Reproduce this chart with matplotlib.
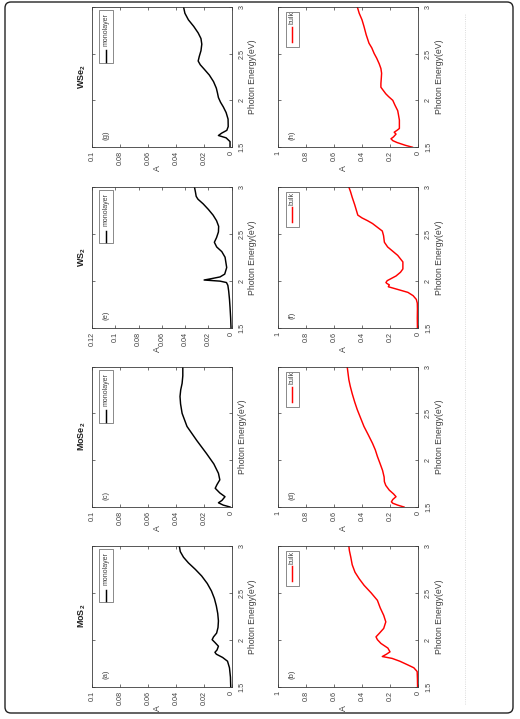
"""
Absorbance A vs photon energy for monolayer and bulk MoS2, MoSe2, WS2, WSe2.
The page is drawn turned a quarter turn (energy runs upward, A runs leftward),
as in the reference scan.
"""
import matplotlib
matplotlib.use("Agg")
import matplotlib.pyplot as plt
from matplotlib.patches import FancyBboxPatch, Rectangle
from matplotlib.lines import Line2D

plt.rcParams["font.family"] = ["Liberation Sans", "DejaVu Sans"]
plt.rcParams["mathtext.fontset"] = "custom"
plt.rcParams["mathtext.rm"] = "Liberation Sans"
plt.rcParams["mathtext.bf"] = "Liberation Sans:bold"

MATERIALS = ["MoS$_\\mathbf{2}$", "MoSe$_\\mathbf{2}$", "WS$_\\mathbf{2}$", "WSe$_\\mathbf{2}$"]
TAGS_MONO = ["(a)", "(c)", "(e)", "(g)"]
TAGS_BULK = ["(b)", "(d)", "(f)", "(h)"]
E_TICKS = [1.5, 2.0, 2.5, 3.0]
E_TICK_LABELS = ["1.5", "2", "2.5", "3"]

# monolayer absorbance
mos2_mono_e = [1.50, 1.60, 1.70, 1.77, 1.81, 1.845, 1.865, 1.89, 1.93, 1.97, 2.00, 2.03,
               2.07, 2.13, 2.20, 2.28, 2.36, 2.44, 2.52, 2.60, 2.68, 2.75, 2.82, 2.88,
               2.94, 3.00]
mos2_mono_a = [0.0007, 0.0009, 0.0016, 0.0030, 0.0065, 0.0110, 0.0120, 0.0105, 0.0095,
               0.0120, 0.0140, 0.0130, 0.0108, 0.0098, 0.0095, 0.0100, 0.0110, 0.0124,
               0.0145, 0.0175, 0.0215, 0.0260, 0.0310, 0.0345, 0.0368, 0.0375]

mose2_mono_e = [1.50, 1.52, 1.545, 1.57, 1.61, 1.65, 1.70, 1.74, 1.79, 1.86, 1.96, 2.07,
                2.21, 2.36, 2.50, 2.60, 2.68, 2.75, 2.82, 2.90, 3.00]
mose2_mono_a = [0.0012, 0.006, 0.0095, 0.007, 0.0048, 0.0085, 0.0118, 0.0105, 0.0085,
                0.0095, 0.0128, 0.0180, 0.0250, 0.0320, 0.0355, 0.0366, 0.0370, 0.0365,
                0.0355, 0.0350, 0.0350]

ws2_mono_e = [1.50, 1.60, 1.71, 1.80, 1.89, 1.95, 1.98, 1.995, 2.007, 2.02, 2.04, 2.07,
              2.14, 2.25, 2.31, 2.36, 2.41, 2.46, 2.52, 2.58, 2.64, 2.70, 2.76, 2.82,
              2.87, 2.90, 2.95, 3.00]
ws2_mono_a = [0.0006, 0.0009, 0.0014, 0.0019, 0.0026, 0.0033, 0.0045, 0.010, 0.0237,
              0.018, 0.010, 0.006, 0.0043, 0.0057, 0.0085, 0.0129, 0.0149, 0.0130,
              0.0114, 0.0112, 0.0130, 0.0160, 0.0200, 0.0245, 0.0290, 0.0305, 0.0312,
              0.0320]

wse2_mono_e = [1.50, 1.56, 1.60, 1.625, 1.65, 1.68, 1.72, 1.80, 1.87, 1.93, 1.98, 2.03,
               2.08, 2.13, 2.20, 2.27, 2.33, 2.38, 2.42, 2.47, 2.53, 2.60, 2.66, 2.72,
               2.79, 2.86, 2.93, 3.00]
wse2_mono_a = [0.0012, 0.0012, 0.004, 0.0095, 0.0072, 0.0035, 0.0025, 0.0026, 0.0040,
               0.0060, 0.0080, 0.0095, 0.0102, 0.0110, 0.0130, 0.0160, 0.0195, 0.0225,
               0.0240, 0.0232, 0.0220, 0.0214, 0.0220, 0.0240, 0.0272, 0.0310, 0.0335,
               0.0345]

# bulk absorbance
mos2_bulk_e = [1.50, 1.58, 1.66, 1.70, 1.73, 1.77, 1.80, 1.82, 1.845, 1.87, 1.91, 1.96,
               2.00, 2.03, 2.07, 2.12, 2.19, 2.26, 2.34, 2.42, 2.50, 2.58, 2.65, 2.72,
               2.80, 2.88, 2.95, 3.00]
mos2_bulk_a = [0.003, 0.004, 0.006, 0.03, 0.072, 0.13, 0.185, 0.255, 0.225, 0.20, 0.215,
               0.265, 0.29, 0.30, 0.275, 0.245, 0.23, 0.245, 0.27, 0.29, 0.335, 0.385,
               0.42, 0.45, 0.47, 0.48, 0.49, 0.494]

mose2_bulk_e = [1.50, 1.52, 1.54, 1.555, 1.58, 1.61, 1.64, 1.68, 1.73, 1.77, 1.82, 1.89,
                1.96, 2.04, 2.11, 2.18, 2.27, 2.36, 2.45, 2.54, 2.62, 2.71, 2.79, 2.86,
                2.93, 3.00]
mose2_bulk_a = [0.10, 0.145, 0.18, 0.19, 0.18, 0.157, 0.175, 0.205, 0.23, 0.24, 0.242,
                0.253, 0.27, 0.29, 0.305, 0.325, 0.355, 0.386, 0.41, 0.434, 0.452, 0.47,
                0.484, 0.494, 0.50, 0.506]

ws2_bulk_e = [1.50, 1.60, 1.70, 1.76, 1.80, 1.84, 1.875, 1.90, 1.935, 1.955, 1.97, 1.98,
              2.00, 2.05, 2.09, 2.125, 2.20, 2.27, 2.32, 2.36, 2.41, 2.48, 2.53, 2.57,
              2.61, 2.64, 2.67, 2.70, 2.75, 2.81, 2.89, 2.95, 3.00]
ws2_bulk_a = [0.004, 0.005, 0.004, 0.005, 0.012, 0.035, 0.072, 0.13, 0.212, 0.205, 0.222,
              0.229, 0.22, 0.157, 0.125, 0.108, 0.108, 0.145, 0.185, 0.217, 0.24, 0.246,
              0.255, 0.29, 0.325, 0.36, 0.40, 0.43, 0.44, 0.452, 0.47, 0.482, 0.494]

wse2_bulk_e = [1.50, 1.52, 1.55, 1.57, 1.59, 1.61, 1.64, 1.66, 1.68, 1.70, 1.75, 1.79,
               1.85, 1.89, 1.95, 2.00, 2.04, 2.07, 2.11, 2.14, 2.18, 2.24, 2.29, 2.34,
               2.39, 2.45, 2.50, 2.56, 2.61, 2.70, 2.79, 2.86, 2.93, 3.00]
wse2_bulk_a = [0.04, 0.09, 0.15, 0.18, 0.193, 0.175, 0.157, 0.17, 0.15, 0.133, 0.133,
               0.133, 0.14, 0.145, 0.165, 0.18, 0.21, 0.23, 0.25, 0.265, 0.265, 0.262,
               0.26, 0.265, 0.277, 0.295, 0.313, 0.33, 0.35, 0.37, 0.386, 0.40, 0.42,
               0.434]

MONO = [(mos2_mono_e, mos2_mono_a), (mose2_mono_e, mose2_mono_a),
        (ws2_mono_e, ws2_mono_a), (wse2_mono_e, wse2_mono_a)]
BULK = [(mos2_bulk_e, mos2_bulk_a), (mose2_bulk_e, mose2_bulk_a),
        (ws2_bulk_e, ws2_bulk_a), (wse2_bulk_e, wse2_bulk_a)]

MONO_AMAX = [0.1, 0.1, 0.12, 0.1]
MONO_TICKS = [[0, 0.02, 0.04, 0.06, 0.08, 0.1]] * 2 + \
             [[0, 0.02, 0.04, 0.06, 0.08, 0.1, 0.12]] + [[0, 0.02, 0.04, 0.06, 0.08, 0.1]]
MONO_TICK_LABELS = [["0", "0.02", "0.04", "0.06", "0.08", "0.1"]] * 2 + \
                   [["0", "0.02", "0.04", "0.06", "0.08", "0.1", "0.12"]] + \
                   [["0", "0.02", "0.04", "0.06", "0.08", "0.1"]]
BULK_TICKS = [0, 0.2, 0.4, 0.6, 0.8, 1.0]
BULK_TICK_LABELS = ["0", "0.2", "0.4", "0.6", "0.8", "1"]

W, H = 520, 719
FRAME = "#3a3a3a"
TXT = "#404040"

fig = plt.figure(figsize=(W / 100, H / 100), dpi=100)
fig.patch.set_facecolor("white")

# page layout in pixels (rotated page): row tops from top of image, MoS2 at the bottom
ROW_TOPS = {3: 6.7, 2: 187.0, 1: 366.5, 0: 546.0}
PANEL_H = 140.5
COL_X = {"mono": (92.0, 231.7), "bulk": (278.0, 418.0)}


def make_ax(col, row):
    x0, x1 = COL_X[col]
    top = ROW_TOPS[row]
    return fig.add_axes([x0 / W, 1 - (top + PANEL_H) / H, (x1 - x0) / W, PANEL_H / H])


def draw_panel(ax, e, a, amax, aticks, alabels, color, legend_text, tag,
               box, line_span, text_y, show_eticks=True):
    ax.plot(a, e, color=color, lw=1.05, solid_joinstyle="round")
    ax.set_xlim(amax, 0)
    ax.set_ylim(1.5, 3.0)
    ax.set_xticks(aticks)
    ax.set_xticklabels(alabels, rotation=90, ha="center", va="top")
    ax.set_yticks(E_TICKS)
    ax.set_yticklabels(E_TICK_LABELS if show_eticks else [""] * 4,
                       rotation=90, ha="left", va="center")
    ax.tick_params(direction="in", length=2.0, width=0.5, color=FRAME,
                   labelcolor=TXT, labelsize=5.2, top=True, bottom=True,
                   left=True, right=True, labelleft=False, labelright=True)
    ax.tick_params(axis="x", pad=3)
    ax.tick_params(axis="y", pad=5)
    for sp in ax.spines.values():
        sp.set_color(FRAME)
        sp.set_linewidth(0.6)

    ax.set_xlabel("A", fontsize=6.3, color=TXT, rotation=90)
    ax.xaxis.set_label_coords(0.47, -0.15)
    ax.xaxis.label.set_rotation_mode("anchor")
    ax.xaxis.label.set_ha("center")
    ax.xaxis.label.set_va("center")

    ax.set_ylabel("Photon Energy(eV)", fontsize=6.3, color=TXT)
    ax.yaxis.set_label_position("right")
    ax.yaxis.set_label_coords(1.15 if show_eticks else 1.075, 0.5)
    ax.yaxis.label.set_rotation(90)
    ax.yaxis.label.set_rotation_mode("anchor")
    ax.yaxis.label.set_ha("center")
    ax.yaxis.label.set_va("center")

    ax.text(0.1, 0.085, tag, transform=ax.transAxes, rotation=90, fontsize=5.5,
            color=TXT, ha="center", va="center")

    # legend drawn by hand, the box turned with the page
    bx0, bx1, by0, by1 = box
    ax.add_patch(Rectangle((bx0, by0), bx1 - bx0, by1 - by0, transform=ax.transAxes,
                           facecolor="white", edgecolor="#5a5a5a", lw=0.5, zorder=4))
    xc = (bx0 + bx1) / 2
    ax.add_line(Line2D([xc, xc], line_span, transform=ax.transAxes, color=color,
                       lw=1.05, zorder=5))
    ax.text(xc, text_y, legend_text, transform=ax.transAxes, rotation=90,
            fontsize=5.0, color=TXT, ha="center", va="bottom", zorder=5)


for i in range(4):
    ax = make_ax("mono", i)
    e, a = MONO[i]
    draw_panel(ax, e, a, MONO_AMAX[i], MONO_TICKS[i], MONO_TICK_LABELS[i], "black",
               "monolayer", TAGS_MONO[i], box=(0.05, 0.15, 0.598, 0.976),
               line_span=(0.607, 0.69), text_y=0.722, show_eticks=(i != 1))
    ax.text(-0.07, 0.5, MATERIALS[i], transform=ax.transAxes, rotation=90,
            fontsize=6.5, fontweight="bold", color="#202020", ha="center", va="center")

    axb = make_ax("bulk", i)
    e, a = BULK[i]
    draw_panel(axb, e, a, 1.0, BULK_TICKS, BULK_TICK_LABELS, "#ff0000", "bulk",
               TAGS_BULK[i], box=(0.057, 0.15, 0.712, 0.962),
               line_span=(0.75, 0.857), text_y=0.875)

# rounded page border and the faint dotted rule of the scan
fig.add_artist(FancyBboxPatch((0.05, 0.06), 5.08, 7.11,
                              boxstyle="round,pad=0,rounding_size=0.06",
                              transform=fig.dpi_scale_trans, facecolor="none",
                              edgecolor="#222222", lw=1.0))
fig.add_artist(Line2D([4.65, 4.65], [0.15, 7.05], transform=fig.dpi_scale_trans,
                      color="#cfcfcf", lw=0.6, ls=":"))

fig.savefig("out.png", dpi=100)
